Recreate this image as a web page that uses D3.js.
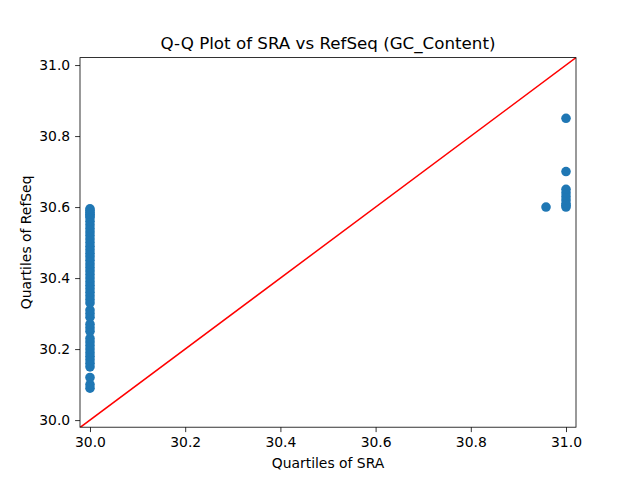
<!DOCTYPE html>
<html>
<head>
<meta charset="utf-8">
<script src="https://cdn.jsdelivr.net/npm/d3@7"></script>
<style>
  body { margin: 0; background: #fff; }
  text { font-family: "DejaVu Sans", sans-serif; }
</style>
</head>
<body>
<div id="chart"></div>
<script>
const width = 640;
const height = 480;
const margin = {left: 80, right: 64, top: 57.6, bottom: 52.8};

// quantiles of SRA (x) and RefSeq (y)
const sraLow = [30.0, 30.0, 30.0, 30.0, 30.0, 30.0, 30.0, 30.0, 30.0, 30.0,
  30.0, 30.0, 30.0, 30.0, 30.0, 30.0, 30.0, 30.0, 30.0, 30.0,
  30.0, 30.0, 30.0, 30.0, 30.0, 30.0, 30.0, 30.0, 30.0, 30.0,
  30.0, 30.0, 30.0, 30.0, 30.0, 30.0, 30.0, 30.0, 30.0, 30.0,
  30.0, 30.0, 30.0, 30.0, 30.0, 30.0, 30.0, 30.0];
const refLow = [30.09, 30.10, 30.12, 30.15, 30.16, 30.17, 30.18, 30.19, 30.20, 30.21,
  30.22, 30.23, 30.25, 30.26, 30.27, 30.29, 30.30, 30.31, 30.33, 30.34,
  30.35, 30.36, 30.37, 30.38, 30.39, 30.40, 30.41, 30.42, 30.43, 30.44,
  30.45, 30.46, 30.47, 30.48, 30.49, 30.50, 30.51, 30.52, 30.53, 30.54,
  30.55, 30.56, 30.57, 30.575, 30.58, 30.585, 30.59, 30.595];
const sraHigh = [30.958, 31.0, 31.0, 31.0, 31.0, 31.0, 31.0, 31.0, 31.0, 31.0];
const refHigh = [30.6, 30.6, 30.605, 30.61, 30.62, 30.63, 30.64, 30.65, 30.70, 30.85];

const xTicks = [30.0, 30.2, 30.4, 30.6, 30.8, 31.0];
const yTicks = [30.0, 30.2, 30.4, 30.6, 30.8, 31.0];

const points = sraLow.map((d, i) => ({x: d, y: refLow[i]}))
  .concat(sraHigh.map((d, i) => ({x: d, y: refHigh[i]})));

const svg = d3.select("#chart").append("svg")
  .attr("width", width)
  .attr("height", height);

const x = d3.scaleLinear().domain([29.979, 31.021]).range([margin.left, width - margin.right]);
const y = d3.scaleLinear().domain([29.98, 31.021]).range([height - margin.bottom, margin.top]);

svg.append("defs").append("clipPath").attr("id", "clip")
  .append("rect")
  .attr("x", margin.left).attr("y", margin.top)
  .attr("width", width - margin.left - margin.right)
  .attr("height", height - margin.top - margin.bottom);

const plot = svg.append("g").attr("clip-path", "url(#clip)");

plot.selectAll("circle")
  .data(points)
  .enter().append("circle")
  .attr("cx", d => x(d.x))
  .attr("cy", d => y(d.y))
  .attr("r", 4.8)
  .attr("fill", "#1f77b4");

// reference line y = x
plot.append("line")
  .attr("x1", x(29.9)).attr("y1", y(29.9))
  .attr("x2", x(31.1)).attr("y2", y(31.1))
  .attr("stroke", "red")
  .attr("stroke-width", 1.5);

const xAxis = svg.append("g")
  .attr("transform", `translate(0,${height - margin.bottom})`)
  .call(d3.axisBottom(x).tickValues(xTicks).tickFormat(d3.format(".1f")).tickSize(4.9).tickPadding(4.9));
const yAxis = svg.append("g")
  .attr("transform", `translate(${margin.left},0)`)
  .call(d3.axisLeft(y).tickValues(yTicks).tickFormat(d3.format(".1f")).tickSize(4.9).tickPadding(4.9));

[xAxis, yAxis].forEach(a => {
  a.select(".domain").remove();
  a.selectAll("text").attr("font-size", 13.9).attr("fill", "#000")
    .attr("font-family", "DejaVu Sans, sans-serif");
  a.selectAll("line").attr("stroke", "#000").attr("stroke-width", 0.8);
});

svg.append("rect")
  .attr("x", margin.left).attr("y", margin.top)
  .attr("width", width - margin.left - margin.right)
  .attr("height", height - margin.top - margin.bottom)
  .attr("fill", "none")
  .attr("stroke", "#000")
  .attr("stroke-width", 0.8);

svg.append("text")
  .attr("x", (margin.left + width - margin.right) / 2)
  .attr("y", 49)
  .attr("text-anchor", "middle")
  .attr("font-size", 16.7)
  .text("Q-Q Plot of SRA vs RefSeq (GC_Content)");

svg.append("text")
  .attr("x", (margin.left + width - margin.right) / 2)
  .attr("y", 468)
  .attr("text-anchor", "middle")
  .attr("font-size", 13.9)
  .text("Quartiles of SRA");

svg.append("text")
  .attr("transform", `translate(31,${(margin.top + height - margin.bottom) / 2}) rotate(-90)`)
  .attr("text-anchor", "middle")
  .attr("font-size", 13.9)
  .text("Quartiles of RefSeq");
</script>
</body>
</html>
